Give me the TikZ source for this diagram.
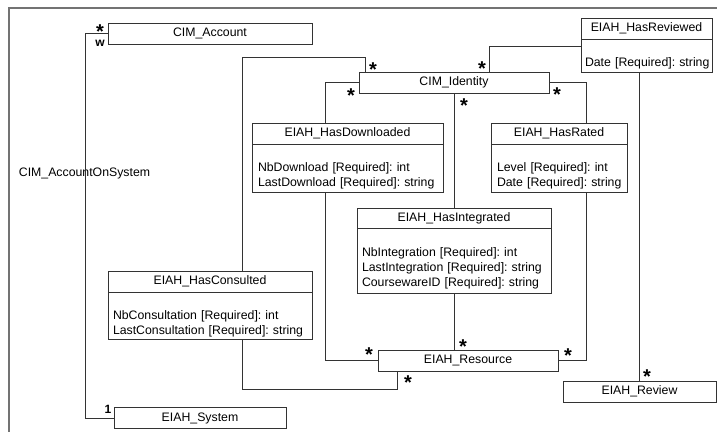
\documentclass[tikz,border=0pt]{standalone}
\usepackage{fontspec}
\newfontfamily\umlfont{Liberation Sans}
\usetikzlibrary{calc}

\begin{document}
\begin{tikzpicture}[x=1pt,y=-1pt,
  cls/.style={draw=black!80, line width=.8pt, minimum height=21pt, inner sep=0pt, font=\umlfont\fontsize{12.3}{15}\selectfont},
  attr/.style={draw=black!80, line width=.8pt, anchor=north, align=left, inner xsep=3pt, inner ysep=0pt, font=\umlfont\frenchspacing\fontsize{12.3}{15}\selectfont},
  link/.style={draw=black!80, line width=.8pt},
  mult/.style={font=\umlfont\bfseries\fontsize{20}{20}\selectfont, inner sep=0pt, yshift=-4.5pt}]
\useasboundingbox (0,0) rectangle (717,432);
\draw[black!55, line width=1.2pt] (717,8) -- (9,8) -- (9,432);

% plain classes
\node[cls, minimum width=204pt] (acc) at (210,33.5) {CIM\_Account};
\node[cls, minimum width=172pt] (sys) at (200,418) {EIAH\_System};
\node[cls, minimum width=190pt] (ident) at (454,82.5) {CIM\_Identity};
\node[cls, minimum width=180pt] (res) at (468,360.5) {EIAH\_Resource};
\node[cls, minimum width=153pt] (rev) at (639.5,391.5) {EIAH\_Review};

% association classes
\node[cls, minimum width=131pt] (revd) at (646.5,28.5) {EIAH\_HasReviewed};
\node[attr, inner xsep=2pt, text width=127pt, minimum height=33pt] (revda) at (revd.south) {\mbox{}\\[8pt]\hspace{2pt}Date [Required]: string};
\node[cls, minimum width=191pt] (dl) at (347.5,133.5) {EIAH\_HasDownloaded};
\node[attr, text width=185pt, minimum height=48pt] (dla) at (dl.south) {\mbox{}\\[8pt]\hspace{3pt}NbDownload [Required]: int\\\hspace{3pt}LastDownload [Required]: string};
\node[cls, minimum width=136pt] (rt) at (559,133.5) {EIAH\_HasRated};
\node[attr, text width=130pt, minimum height=48pt] (rta) at (rt.south) {\mbox{}\\[8pt]\hspace{3pt}Level [Required]: int\\\hspace{3pt}Date [Required]: string};
\node[cls, minimum width=194pt, minimum height=20pt] (it) at (454,218) {EIAH\_HasIntegrated};
\node[attr, text width=188pt, minimum height=65pt] (ita) at (it.south) {\mbox{}\\[8pt]\hspace{2pt}NbIntegration [Required]: int\\\hspace{2pt}LastIntegration [Required]: string\\\hspace{2pt}CoursewareID [Required]: string};
\node[cls, minimum width=204pt] (cs) at (210,281.5) {EIAH\_HasConsulted};
\node[attr, text width=198pt, minimum height=47pt] (csa) at (cs.south) {\mbox{}\\[8pt]\hspace{2pt}NbConsultation [Required]: int\\\hspace{2pt}LastConsultation [Required]: string};

\node[font=\umlfont\fontsize{12.3}{15}\selectfont] (aos) at (84.5,173) {CIM\_AccountOnSystem};

% links
\draw[link] (acc.west) -- ++(-22,0) |- (sys.west);
\draw[link] ([xshift=32pt]cs.north) -- ++(0,-213) -| ([xshift=7pt]ident.north west);
\draw[link] ([xshift=-22.5pt]dl.north) |- (ident.west);
\draw[link] ([yshift=9.5pt]revda.west) -| ([xshift=131pt]ident.north west);
\draw[link] (ident.east) -| ([xshift=27pt]rt.north);
\draw[link] (ident.south) -- (it.north);
\draw[link] (ita.south) -- (ita.south |- res.north);
\draw[link] ([xshift=-22.5pt]dla.south) |- (res.west);
\draw[link] ([xshift=27pt]rta.south) |- (res.east);
\draw[link] ([xshift=32pt]csa.south) -- ++(0,49) -| ([xshift=20pt]res.south west);
\draw[link] (rev.north |- revda.south) -- (rev.north);

% multiplicities
\foreach \p [count=\i] in {(100,27),(373,65),(351,91),(482,64),(557,90),(464,101),(463,342),(369,350),(568,351),(408,378),(647,372)}
  \node[mult] (star\i) at \p {*};
\node[mult, yshift=4.5pt, font=\umlfont\bfseries\fontsize{12}{12}\selectfont] (mw) at (100,43) {w};
\node[mult, yshift=4.5pt, font=\umlfont\bfseries\fontsize{12}{12}\selectfont] (mone) at (108,409) {1};
\end{tikzpicture}
\end{document}
